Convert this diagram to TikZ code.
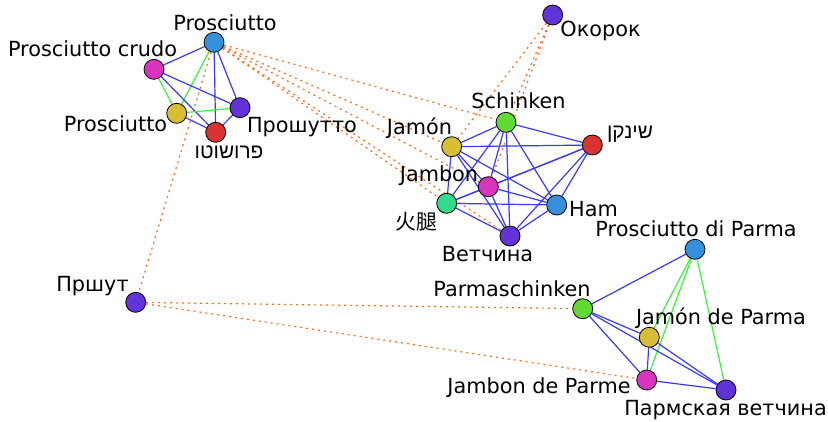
\documentclass[tikz,border=0pt]{standalone}
\usepackage{fontspec}
\setmainfont{DejaVu Sans}
\newfontfamily\cjkfont{Noto Sans CJK SC}
\newfontfamily\hebfont[Script=Hebrew]{Liberation Sans}
\TeXXeTstate=1
\usetikzlibrary{backgrounds}
\definecolor{cRed}{HTML}{D83434}
\definecolor{cYellow}{HTML}{D8BE34}
\definecolor{cGreen}{HTML}{62D834}
\definecolor{cTeal}{HTML}{34D88E}
\definecolor{cBlue}{HTML}{3490D8}
\definecolor{cPurple}{HTML}{6234D8}
\definecolor{cMagenta}{HTML}{D834BE}
\definecolor{eBlue}{HTML}{3A3AF5}
\definecolor{eGreen}{HTML}{3CF03C}
\definecolor{eOrange}{HTML}{FF6A1A}
\tikzset{
  vert/.style={circle, draw=black, line width=0.8pt, minimum size=20pt, inner sep=0pt, fill=#1},
  lbl/.style={anchor=base, inner sep=0pt, font=\fontsize{20.8pt}{24pt}\selectfont},
  same/.style={draw=eBlue, line width=1.2pt},
  close/.style={draw=eGreen, line width=1.2pt},
  far/.style={draw=eOrange, line width=1.2pt, dash pattern=on 2pt off 4pt},
}
\begin{document}
\begin{tikzpicture}[x=1pt, y=-1pt]
\useasboundingbox (0,0) rectangle (828,421);

% prosciutto group
\node[vert=cBlue]    (pA) at (214,42.3) {};
\node[vert=cMagenta] (pB) at (154,69.3) {};
\node[vert=cYellow]  (pC) at (176.7,113.3) {};
\node[vert=cPurple]  (pD) at (240,107.7) {};
\node[vert=cRed]     (pE) at (215.7,132.3) {};

% ham group
\node[vert=cGreen]   (hA) at (506,122.3) {};
\node[vert=cYellow]  (hB) at (451.7,146.7) {};
\node[vert=cRed]     (hC) at (592.3,145) {};
\node[vert=cMagenta] (hD) at (488.3,186.7) {};
\node[vert=cTeal]    (hE) at (446.7,203.3) {};
\node[vert=cBlue]    (hF) at (556.7,205) {};
\node[vert=cPurple]  (hG) at (510,236) {};

% parma group
\node[vert=cBlue]    (mA) at (695,249.3) {};
\node[vert=cGreen]   (mB) at (582.7,308.7) {};
\node[vert=cYellow]  (mC) at (649.3,337.3) {};
\node[vert=cMagenta] (mD) at (646.7,380) {};
\node[vert=cPurple]  (mE) at (726,390) {};

% single vertices
\node[vert=cPurple]  (sA) at (135.7,302.3) {};
\node[vert=cPurple]  (sB) at (552.7,15) {};

% labels
\node[lbl] (lpA) at (225,30) {Prosciutto};
\node[lbl] (lpB) at (92.5,56) {Prosciutto crudo};
\node[lbl] (lpC) at (115.5,131.7) {Prosciutto};
\node[lbl] (lpD) at (302,132) {Прошутто};
\node[lbl] (lpE) at (229,158) {\hebfont\beginR פרושוטו\endR};
\node[lbl] (lhA) at (518.5,108) {Schinken};
\node[lbl] (lhB) at (419.5,134) {Jamón};
\node[lbl] (lhC) at (630,138) {\hebfont\beginR שינקן\endR};
\node[lbl] (lhD) at (439,181.7) {Jambon};
\node[lbl] (lhE) at (416.5,229) {\cjkfont 火腿};
\node[lbl] (lhF) at (593.5,216.7) {Ham};
\node[lbl] (lhG) at (487.5,261) {Ветчина};
\node[lbl] (lmA) at (696,236.7) {Prosciutto di Parma};
\node[lbl] (lmB) at (512,296) {Parmaschinken};
\node[lbl] (lmC) at (721,324) {Jamón de Parma};
\node[lbl] (lmD) at (539,393) {Jambon de Parme};
\node[lbl] (lmE) at (725.5,415) {Пармская ветчина};
\node[lbl] (lsA) at (92.5,291.7) {Пршут};
\node[lbl] (lsB) at (600.5,36) {Окорок};

\begin{pgfonlayer}{background}
  % loose links between groups
  \foreach \t in {hA,hB,hD,hE,hG} \draw[far] (pA) -- (\t);
  \draw[far] (pA) -- (sA);
  \foreach \t in {hA,hB,hD} \draw[far] (sB) -- (\t);
  \draw[far] (sA) -- (mB);
  \draw[far] (sA) -- (mD);

  % prosciutto group
  \draw[same] (pA) -- (pB);
  \draw[close] (pA) -- (pC);
  \draw[same] (pA) -- (pD);
  \draw[same] (pA) -- (pE);
  \draw[close] (pB) -- (pC);
  \draw[same] (pB) -- (pD);
  \draw[same] (pB) -- (pE);
  \draw[close] (pC) -- (pD);
  \draw[same] (pC) -- (pE);
  \draw[same] (pD) -- (pE);

  % ham group: every pair linked
  \foreach \a/\b in {hA/hB,hA/hC,hA/hD,hA/hE,hA/hF,hA/hG,
                     hB/hC,hB/hD,hB/hE,hB/hF,hB/hG,
                     hC/hD,hC/hE,hC/hF,hC/hG,
                     hD/hE,hD/hF,hD/hG,
                     hE/hF,hE/hG,
                     hF/hG}
    \draw[same] (\a) -- (\b);

  % parma group
  \draw[same] (mA) -- (mB);
  \draw[close] (mA) -- (mC);
  \draw[close] (mA) -- (mD);
  \draw[close] (mA) -- (mE);
  \draw[same] (mB) -- (mC);
  \draw[same] (mB) -- (mD);
  \draw[same] (mB) -- (mE);
  \draw[same] (mC) -- (mD);
  \draw[same] (mC) -- (mE);
  \draw[same] (mD) -- (mE);
\end{pgfonlayer}
\end{tikzpicture}
\end{document}
